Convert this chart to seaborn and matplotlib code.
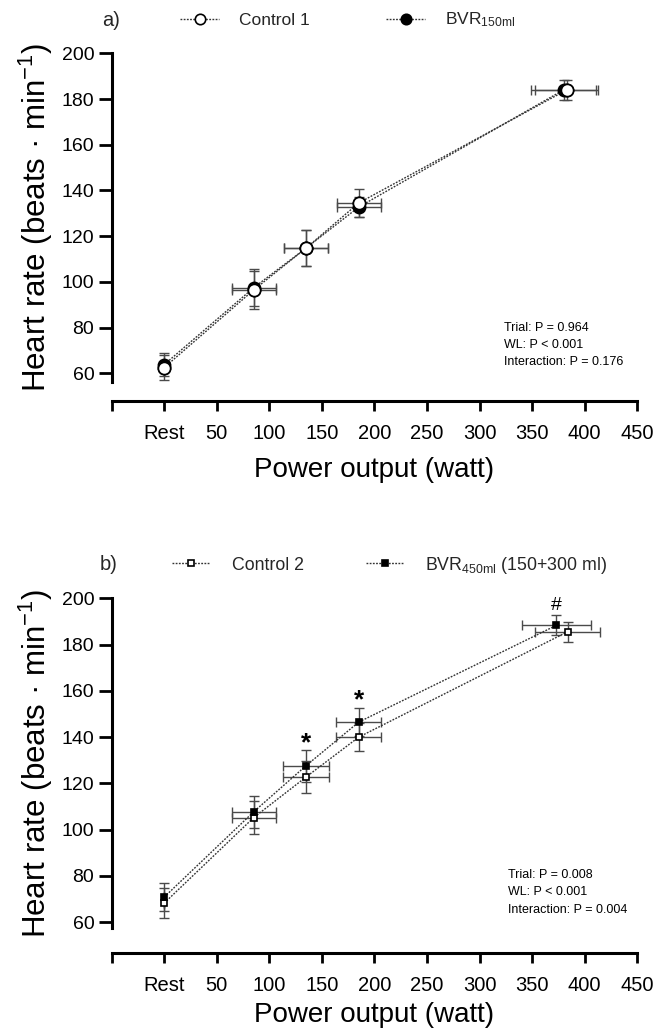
import matplotlib
matplotlib.use("Agg")
import matplotlib.pyplot as plt
import seaborn as sns
import pandas as pd
from matplotlib.lines import Line2D

# ---------------- data ----------------
# Panel a) Control 1 vs BVR 150 ml
a_ctrl_x = [0, 85, 135, 185, 383]
a_ctrl_xerr = [0, 21, 21, 21, 30]
a_ctrl_hr = [62.5, 96.4, 114.8, 134.5, 184.0]
a_ctrl_hr_err = [5.5, 8.5, 7.8, 6.0, 4.3]

a_bvr_x = [0, 85, 135, 185, 380]
a_bvr_xerr = [0, 21, 21, 21, 31]
a_bvr_hr = [63.8, 97.4, 114.8, 132.7, 184.0]
a_bvr_hr_err = [5.0, 8.0, 7.8, 4.5, 4.3]

# Panel b) Control 2 vs BVR 450 ml
b_ctrl_x = [0, 85, 135, 185, 384]
b_ctrl_xerr = [0, 21, 22, 21.5, 31]
b_ctrl_hr = [68.3, 105.2, 122.8, 140.0, 185.6]
b_ctrl_hr_err = [6.6, 7.1, 7.0, 6.0, 4.3]

b_bvr_x = [0, 85, 135, 185, 373]
b_bvr_xerr = [0, 21, 22, 21.5, 33]
b_bvr_hr = [70.9, 107.7, 127.7, 146.5, 188.3]
b_bvr_hr_err = [6.1, 6.9, 6.9, 6.1, 4.3]

# significance marks (panel b, BVR series)
b_sig_x = [135, 185, 373]
b_sig_y = [137.5, 156.0, 197.0]
b_sig_txt = ["*", "*", "#"]

x_ticks = [-50, 0, 50, 100, 150, 200, 250, 300, 350, 400, 450]
x_ticklabels = ["", "Rest", "50", "100", "150", "200", "250", "300", "350", "400", "450"]
y_ticks = [60, 80, 100, 120, 140, 160, 180, 200]

a_stats = ["Trial: P = 0.964", "WL: P < 0.001", "Interaction: P = 0.176"]
b_stats = ["Trial: P = 0.008", "WL: P < 0.001", "Interaction: P = 0.004"]

# ---------------- style ----------------
sns.set_theme(style="ticks")
plt.rcParams['font.family'] = ['Liberation Sans', 'DejaVu Sans']
plt.rcParams['mathtext.fontset'] = 'custom'
plt.rcParams['mathtext.rm'] = 'Liberation Sans'
plt.rcParams['mathtext.it'] = 'Liberation Sans'
plt.rcParams['mathtext.bf'] = 'Liberation Sans:bold'

W, H = 655, 1034
fig = plt.figure(figsize=(W / 100, H / 100), dpi=100)
ax1 = fig.add_axes([111.7 / W, 1 - 381.7 / H, 525.5 / W, 328.4 / H])
ax2 = fig.add_axes([111.7 / W, 1 - 928.3 / H, 525.5 / W, 330.0 / H])

LINE_COL = '#333333'
ERR_COL = '#4a4a4a'
DOT = (0, (1.3, 1.0))


def draw_series(ax, x, xerr, y, yerr, marker, ms, face):
    ax.errorbar(x, y, yerr=yerr, xerr=xerr, fmt='none', ecolor=ERR_COL,
                elinewidth=1.0, capsize=3.6, capthick=1.0, zorder=2)
    df = pd.DataFrame({'x': x, 'y': y})
    sns.lineplot(data=df, x='x', y='y', ax=ax, color=LINE_COL, lw=1.0,
                 linestyle=DOT, marker=marker, markersize=ms,
                 markerfacecolor=face, markeredgecolor='black',
                 markeredgewidth=1.2, legend=False, zorder=3, sort=False)


def style_axes(ax, ylo, offset, xlabelpad, stats, stat_x, stat_y):
    ax.set_xlim(-50, 450)
    ax.set_ylim(ylo, 200)
    ax.set_xticks(x_ticks)
    ax.set_xticklabels(x_ticklabels)
    ax.set_yticks(y_ticks)
    for s in ['top', 'right']:
        ax.spines[s].set_visible(False)
    for s in ['left', 'bottom']:
        ax.spines[s].set_linewidth(2.2)
        ax.spines[s].set_color('black')
    ax.spines['bottom'].set_position(('outward', offset))
    ax.tick_params(axis='y', length=9.5, width=2, labelsize=14, pad=3, colors='black')
    ax.tick_params(axis='x', length=7, width=2, labelsize=14.5, pad=9.5, colors='black')
    ax.set_xlabel("Power output (watt)", fontsize=20, labelpad=xlabelpad, color='black')
    ax.set_ylabel("Heart rate (beats · min$^{-1}$)", fontsize=22.5, labelpad=5,
                  color='black')
    for t, yy in zip(stats, stat_y):
        ax.text(stat_x, yy, t, fontsize=9, ha='left', va='center', color='black')


# Panel a
draw_series(ax1, a_ctrl_x, a_ctrl_xerr, a_ctrl_hr, a_ctrl_hr_err, 'o', 8.8, 'white')
draw_series(ax1, a_bvr_x, a_bvr_xerr, a_bvr_hr, a_bvr_hr_err, 'o', 8.8, 'black')
# open circles sit on top of the filled ones in the original
ax1.plot(a_ctrl_x, a_ctrl_hr, ls='none', marker='o', ms=8.8, mfc='white',
         mec='black', mew=1.2, zorder=4)
style_axes(ax1, 56.3, 14, 10, a_stats, 323.5, [79.8, 72.4, 65.0])

# Panel b
draw_series(ax2, b_ctrl_x, b_ctrl_xerr, b_ctrl_hr, b_ctrl_hr_err, 's', 5, 'white')
draw_series(ax2, b_bvr_x, b_bvr_xerr, b_bvr_hr, b_bvr_hr_err, 's', 5, 'black')
style_axes(ax2, 57.4, 18, 5, b_stats, 327, [80.4, 73.1, 65.4])
for xx, yy, t in zip(b_sig_x, b_sig_y, b_sig_txt):
    if t == '*':
        ax2.text(xx, yy, t, fontsize=19, fontweight='bold', ha='center',
                 va='center', color='black')
    else:
        ax2.text(xx, yy, t, fontsize=14, ha='center', va='center', color='black')


# Legends and panel letters
def legend_handle(marker, ms, face):
    return Line2D([0], [0], color=LINE_COL, lw=1.0, linestyle=DOT, marker=marker,
                  markersize=ms, markerfacecolor=face, markeredgecolor='black',
                  markeredgewidth=1.2)


fig.text(102 / W, 1 - 20 / H, "a)", fontsize=14.5, ha='left', va='center')
fig.legend([legend_handle('o', 7.5, 'white'), legend_handle('o', 7.5, 'black')],
           ["Control 1", "BVR$_{\\mathrm{150ml}}$"], loc='center left',
           bbox_to_anchor=(180 / W, 1 - 20 / H), ncol=2, frameon=False,
           fontsize=12.5, handlelength=2.25, handletextpad=1.15,
           columnspacing=4.4, borderpad=0, borderaxespad=0)

fig.text(100 / W, 1 - 565 / H, "b)", fontsize=14.5, ha='left', va='center')
fig.legend([legend_handle('s', 5, 'white'), legend_handle('s', 5, 'black')],
           ["Control 2", "BVR$_{\\mathrm{450ml}}$ (150+300 ml)"], loc='center left',
           bbox_to_anchor=(172 / W, 1 - 565 / H), ncol=2, frameon=False,
           fontsize=12.8, handlelength=2.15, handletextpad=1.2,
           columnspacing=3.5, borderpad=0, borderaxespad=0)

fig.savefig("out.png", dpi=100, facecolor='white')
